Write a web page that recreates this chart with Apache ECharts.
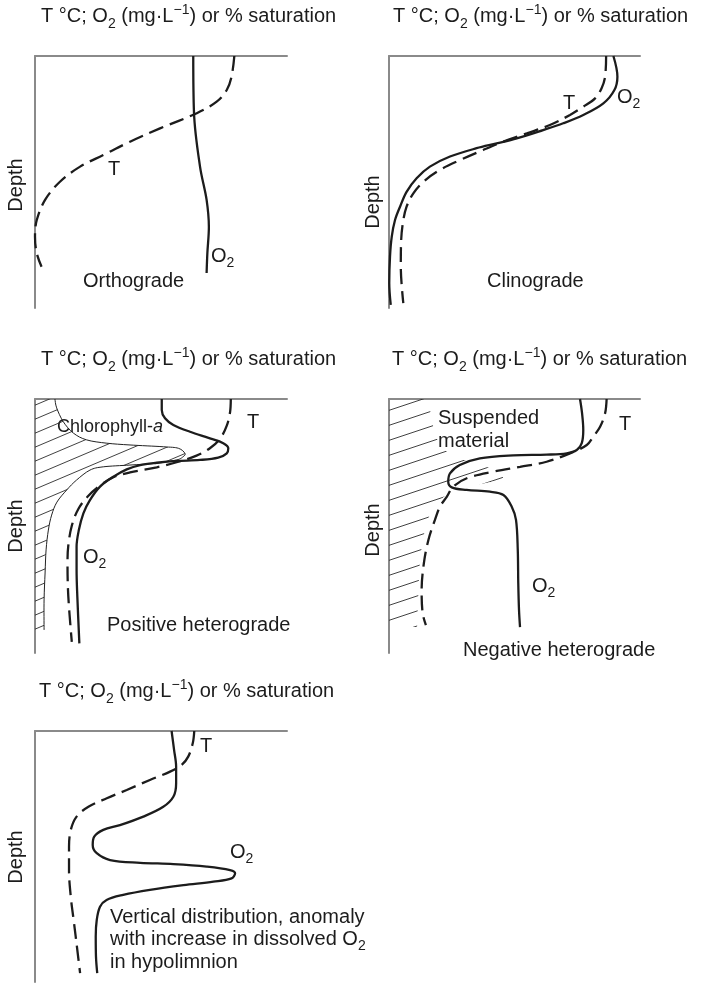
<!DOCTYPE html>
<html>
<head>
<meta charset="utf-8">
<title>Vertical profiles of temperature and dissolved oxygen</title>
<script src="https://cdn.jsdelivr.net/npm/echarts@6/dist/echarts.min.js"></script>
<style>
  html, body { margin: 0; padding: 0; background: #fff; }
  #chart { width: 709px; height: 983px; }
</style>
</head>
<body>
<div id="chart"></div>
<script>
// Profiles are [value, depth] pairs; both scales run 0-100 (relative units).

// Orthograde
const orthoO2 = [[62.8,0],[63.1,22.6],[65.5,44],[68.1,57.1],[69.0,67.9],[68.4,78.2],[68.1,86.1]];
const orthoT = [[79.1,0],[78.0,8.2],[76.1,13.5],[72.1,18.1],[64.2,22.7],[49.6,28.7],[37.7,34.0],[27.1,39.3],
  [17.9,43.9],[9.9,49.9],[4.0,57.1],[0.7,65.1],[0,71.7],[0.7,78.3],[2.6,83.6]];

// Clinograde
const clinoO2 = [[89.4,0],[91.0,8.2],[89.8,13.5],[85.4,18.8],[77.4,23.4],[69.4,26.7],[61.4,29.4],[50.9,32.7],
  [42.9,34.7],[34.9,36.6],[24.3,39.9],[16.3,43.9],[11.0,48.5],[7.0,53.9],[4.4,59.8],[2.4,65.1],[1.1,71.7],
  [0.4,79.6],[0.1,90.2],[0.7,98.8]];
const clinoT = [[86.5,0],[86.1,8.2],[84.7,12.8],[82.1,16.8],[77.4,20.1],[72.1,23.4],[64.1,27.4],[54.9,30.7],
  [45.5,34.0],[37.5,37.3],[28.3,41.3],[20.3,45.2],[13.7,49.9],[9.7,54.5],[7.0,59.8],[5.5,66.4],[4.8,74.3],
  [4.7,83.6],[5.7,98.1]];

// Positive heterograde
const posO2 = [[50.3,0],[50.3,4.3],[51.6,7.6],[54.9,10.2],[61.5,12.9],[69.4,15.5],[74.7,17.4],[76.7,19.4],
  [76.1,21.4],[72.7,23.1],[65.5,24.0],[56.2,24.4],[48.3,25.1],[41.7,26.0],[36.4,27.7],[31.1,30.6],[25.8,34.5],
  [21.8,39.8],[19.2,45.0],[17.4,51.6],[16.5,58.2],[16.5,67.3],[16.8,77.8],[17.6,96.2]];
const posT = [[77.7,0],[77.4,5.2],[76.1,10.5],[73.4,15.7],[69.4,19.4],[64.1,22.3],[56.2,24.9],[48.3,26.9],
  [37.7,28.9],[31.1,30.8],[25.8,34.1],[21.2,38.1],[17.2,43.3],[14.6,49.9],[13.2,57.8],[12.9,64.3],[13.2,77.4],
  [14.6,95.6]];
const posChlorophyll = [[7.9,0],[8.6,3.5],[11.2,8.9],[15.2,13.4],[20.5,16.1],[28.5,17.4],[37.7,18.1],[50.9,18.8],
  [56.9,19.4],[59.5,21.4],[58.8,22.7],[56.2,24.0],[48.3,25.3],[37.7,26.0],[27.1,26.7],[21.8,28.0],[16.5,31.9],
  [12.6,35.8],[8.7,40.6],[6.6,45.7],[5.3,51.6],[4.4,59.4],[4.0,68.5],[3.6,79.1],[3.6,90.9]];

// Negative heterograde
const negO2 = [[76.1,0],[76.9,5.5],[77.4,12.2],[76.8,17.4],[74.8,20.1],[70.8,21.4],[62.8,21.9],[49.5,22.2],
  [36.2,23.4],[28.2,26.0],[24.3,29.3],[23.6,32.6],[25.0,34.8],[30.9,35.8],[40.2,36.5],[45.6,37.8],[48.9,42.4],
  [50.6,47.6],[51.3,59.4],[51.5,72.4],[51.8,83.1],[52.2,89.8]];
const negT = [[86.7,0],[86.1,5.6],[84.1,10.9],[81.4,14.8],[78.8,18.1],[72.1,21.4],[62.8,24.7],[52.2,26.7],
  [41.6,28.6],[31.0,31.2],[25.6,34.5],[23.0,38.5],[20.3,42.4],[18.3,47.6],[15.7,55.5],[13.9,64.6],[13.0,75.2],
  [13.4,84.3],[14.7,89.0]];
const negSuspended = [[14.3,0],[16.3,4.3],[17.5,10.2],[18.7,15.0],[22.3,20.1],[27.5,23.2],[39.0,26.8],[45.4,31.1],
  [36.3,33.5],[26.3,35.8],[20.3,39.8],[17.1,43.7],[14.3,51.6],[12.4,63.4],[11.6,79.1],[11.2,89.8]];

// Anomaly: oxygen increase in the hypolimnion
const anomO2 = [[54.2,0],[55.2,7.6],[56.0,14.2],[56.0,20.9],[54.9,26.2],[50.9,30.2],[43.0,34.1],[33.7,37.5],
  [27.1,39.4],[23.5,42.1],[22.9,45.4],[24.5,48.7],[29.8,51.4],[41.7,52.5],[54.9,53.0],[68.1,54.0],[77.4,55.4],
  [79.4,56.7],[78.0,58.7],[70.8,60.0],[58.9,61.4],[45.6,63.3],[35.0,65.3],[28.4,67.3],[25.8,70.0],[24.5,75.3],
  [24.1,81.9],[24.2,89.9],[24.7,96.5]];
const anomT = [[63.2,0],[62.6,4.9],[60.8,10.2],[58.2,13.5],[53.6,16.2],[45.6,19.5],[36.4,23.5],[28.5,26.8],
  [21.2,30.2],[16.5,34.1],[14.2,39.4],[13.5,46.1],[13.5,55.4],[14.2,66.0],[15.5,76.6],[16.8,87.3],[17.9,96.5]];

// ---------------------------------------------------------------------------
const FONT = "'Liberation Sans', Arial, Helvetica, sans-serif";
const INK = '#1c1c1c';
const AXIS = '#8a8a8a';

const panels = [
  { left: 35,  top: 56,  width: 252, height: 252 },
  { left: 389, top: 56,  width: 251, height: 252 },
  { left: 35,  top: 399, width: 252, height: 254 },
  { left: 389, top: 399, width: 251, height: 254 },
  { left: 35,  top: 731, width: 252, height: 251 }
];

const measureCtx = document.createElement('canvas').getContext('2d');
function textWidth(t, size, style) {
  measureCtx.font = (style || 'normal') + ' ' + size + 'px ' + FONT;
  return measureCtx.measureText(t).width;
}

// A run of text pieces on one line: '' normal, 's' subscript, 'p' superscript, 'i' italic
function textRun(x, y, parts, size) {
  size = size || 20;
  const small = Math.round(size * 0.7);
  const out = [];
  let cx = x;
  parts.forEach(([t, kind]) => {
    const fs = (kind === 's' || kind === 'p') ? small : size;
    const dy = kind === 's' ? size * 0.38 : kind === 'p' ? -size * 0.3 : 0;
    const st = kind === 'i' ? 'italic' : 'normal';
    out.push({
      type: 'text', x: cx, y: y + dy, silent: true,
      style: {
        text: t, fontSize: fs, fontFamily: FONT, fontStyle: st, fill: INK,
        textAlign: 'left', align: 'left', textVerticalAlign: 'middle', verticalAlign: 'middle'
      }
    });
    cx += textWidth(t, fs, st);
  });
  return out;
}

function depthLabel(x, y) {
  return {
    type: 'text', x: x, y: y, rotation: Math.PI / 2, silent: true,
    style: {
      text: 'Depth', fontSize: 20, fontFamily: FONT, fill: INK,
      textAlign: 'center', align: 'center', textVerticalAlign: 'middle', verticalAlign: 'middle'
    }
  };
}

const titleParts = [['T °C; O', ''], ['2', 's'], [' (mg·L', ''], ['−1', 'p'], [') or % saturation', '']];
const O2 = [['O', ''], ['2', 's']];

function hatchPattern(w, h) {
  const c = document.createElement('canvas');
  c.width = w; c.height = h;
  const g = c.getContext('2d');
  g.strokeStyle = '#2b2b2b';
  g.lineWidth = 0.9;
  for (let k = -1; k <= 1; k++) {
    g.beginPath();
    g.moveTo(-w, 2 * h + k * h);
    g.lineTo(2 * w, -h + k * h);
    g.stroke();
  }
  return { image: c, repeat: 'repeat' };
}

function splinePath(p) {
  let d = '';
  for (let i = 0; i < p.length - 1; i++) {
    const p0 = p[i - 1] || p[i], p1 = p[i], p2 = p[i + 1], p3 = p[i + 2] || p2;
    const c1 = [p1[0] + (p2[0] - p0[0]) / 6, p1[1] + (p2[1] - p0[1]) / 6];
    const c2 = [p2[0] - (p3[0] - p1[0]) / 6, p2[1] - (p3[1] - p1[1]) / 6];
    d += ' C' + c1[0].toFixed(2) + ' ' + c1[1].toFixed(2) + ' ' + c2[0].toFixed(2) + ' ' + c2[1].toFixed(2) +
         ' ' + p2[0].toFixed(2) + ' ' + p2[1].toFixed(2);
  }
  return d;
}

// Hatched region between the depth axis and a boundary profile
function hatchSeries(idx, boundary, pattern, outline) {
  return {
    type: 'custom', xAxisIndex: idx, yAxisIndex: idx, data: boundary, encode: { x: 0, y: 1 },
    z: 1, silent: true, clip: false,
    renderItem(params, api) {
      if (params.dataIndexInside !== 0) return null;
      const n = params.dataInsideLength || boundary.length;
      const pts = [];
      for (let i = 0; i < n; i++) pts.push(api.coord([api.value(0, i), api.value(1, i)]));
      const top = api.coord([0, api.value(1, 0)]);
      const bot = api.coord([0, api.value(1, n - 1)]);
      const curve = splinePath(pts);
      const start = 'M' + pts[0][0].toFixed(2) + ' ' + pts[0][1].toFixed(2);
      const children = [{
        type: 'path',
        shape: { pathData: 'M' + top[0] + ' ' + top[1] + ' L' + pts[0][0].toFixed(2) + ' ' + pts[0][1].toFixed(2) +
                 curve + ' L' + bot[0] + ' ' + bot[1] + ' Z' },
        style: { fill: pattern, stroke: 'none' }
      }];
      if (outline) {
        children.push({ type: 'path', shape: { pathData: start + curve },
                        style: { fill: 'none', stroke: '#222', lineWidth: 1 } });
      }
      return { type: 'group', children: children };
    }
  };
}

function profile(idx, data, dashed) {
  return {
    type: 'line', xAxisIndex: idx, yAxisIndex: idx, data: data,
    symbol: 'none', smooth: 0.35, clip: false, silent: true, z: 3,
    lineStyle: { color: INK, width: 2.3, type: dashed ? [15, 7] : 'solid', cap: 'butt' }
  };
}

const axisLine = { show: true, onZero: false, lineStyle: { color: AXIS, width: 2 } };

const option = {
  backgroundColor: '#fff',
  animation: false,
  grid: panels.map(p => Object.assign({ outerBoundsMode: 'none', containLabel: false }, p)),
  xAxis: panels.map((p, i) => ({
    gridIndex: i, type: 'value', min: 0, max: 100, position: 'top',
    axisLine: axisLine, axisTick: { show: false }, axisLabel: { show: false }, splitLine: { show: false }
  })),
  yAxis: panels.map((p, i) => ({
    gridIndex: i, type: 'value', min: 0, max: 100, inverse: true,
    axisLine: axisLine, axisTick: { show: false }, axisLabel: { show: false }, splitLine: { show: false }
  })),
  series: [
    profile(0, orthoT, true), profile(0, orthoO2, false),
    profile(1, clinoT, true), profile(1, clinoO2, false),
    hatchSeries(2, posChlorophyll, hatchPattern(33, 14), true),
    profile(2, posT, true), profile(2, posO2, false),
    hatchSeries(3, negSuspended, hatchPattern(45, 15), false),
    profile(3, negT, true), profile(3, negO2, false),
    profile(4, anomT, true), profile(4, anomO2, false)
  ],
  graphic: {
    elements: [].concat(
      textRun(41, 16.5, titleParts), textRun(393, 16.5, titleParts),
      textRun(41, 359.5, titleParts), textRun(392, 359.5, titleParts), textRun(39, 691.5, titleParts),
      [depthLabel(16, 185), depthLabel(373, 202), depthLabel(16.5, 526), depthLabel(373, 530), depthLabel(16, 857)],
      // orthograde
      textRun(108, 169, [['T', '']]), textRun(211, 256, O2), textRun(83, 281, [['Orthograde', '']]),
      // clinograde
      textRun(563, 103, [['T', '']]), textRun(617, 97, O2), textRun(487, 281, [['Clinograde', '']]),
      // positive heterograde
      textRun(247, 422, [['T', '']]), textRun(57, 427, [['Chlorophyll-', ''], ['a', 'i']], 18),
      textRun(83, 557, O2), textRun(107, 625, [['Positive heterograde', '']]),
      // negative heterograde
      textRun(619, 424, [['T', '']]), textRun(438, 418, [['Suspended', '']]), textRun(438, 441, [['material', '']]),
      textRun(532, 586, O2), textRun(463, 650, [['Negative heterograde', '']]),
      // anomaly
      textRun(200, 746, [['T', '']]), textRun(230, 852, O2),
      textRun(110, 917, [['Vertical distribution, anomaly', '']]),
      textRun(110, 939, [['with increase in dissolved O', ''], ['2', 's']]),
      textRun(110, 962, [['in hypolimnion', '']])
    )
  }
};

const chart = echarts.init(document.getElementById('chart'), null, { renderer: 'canvas' });
chart.setOption(option);
</script>
</body>
</html>
